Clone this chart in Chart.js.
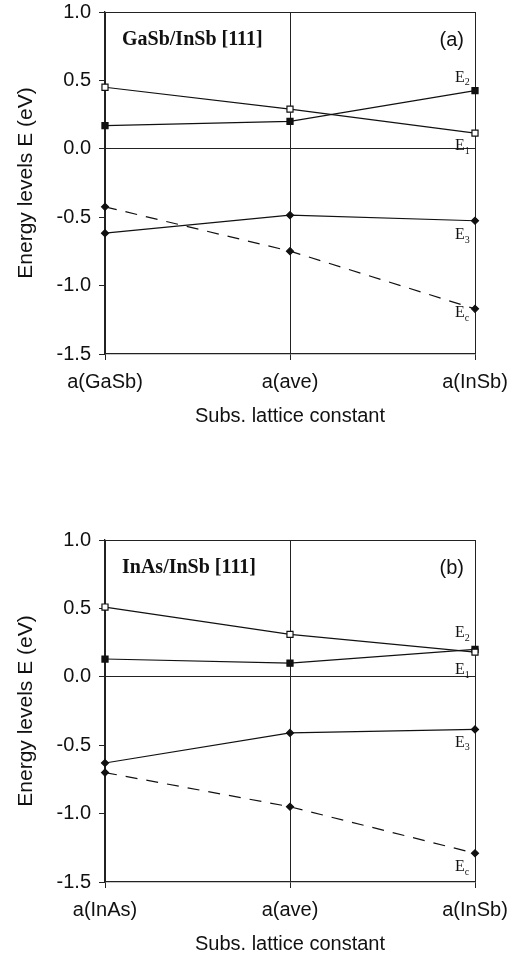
<!DOCTYPE html>
<html lang="en">
<head>
    <meta charset="UTF-8">
    <title>Energy levels vs substrate lattice constant</title>
    <script src="https://cdn.jsdelivr.net/npm/chart.js"></script>
    <style>
        body {
            margin: 0;
            background-color: #fff;
        }
        .panel {
            position: absolute;
            left: 0;
            width: 521px;
            height: 428px;
        }
        #panelA { top: 0; }
        #panelB { top: 528px; }
    </style>
</head>
<body>

    <div class="panel" id="panelA"><canvas id="chartA"></canvas></div>
    <div class="panel" id="panelB"><canvas id="chartB"></canvas></div>

    <script>
        // datos
        const xLabelsA = ['a(GaSb)', 'a(ave)', 'a(InSb)'];
        const xLabelsB = ['a(InAs)', 'a(ave)', 'a(InSb)'];
        const yTicks = [-1.5, -1.0, -0.5, 0.0, 0.5, 1.0];

        // (a) GaSb/InSb
        const openA = [0.45, 0.29, 0.115];
        const filledA = [0.17, 0.20, 0.425];
        const e3A = [-0.617, -0.485, -0.526];
        const ecA = [-0.424, -0.748, -1.17];

        // (b) InAs/InSb
        const openB = [0.51, 0.31, 0.18];
        const filledB = [0.13, 0.10, 0.20];
        const e3B = [-0.63, -0.41, -0.385];
        const ecB = [-0.70, -0.95, -1.29];

        // etiquetas de niveles (texto, subindice, valor y)
        const levelLabelsA = [['E', '2', 0.52], ['E', '1', 0.02], ['E', '3', -0.63], ['E', 'c', -1.20]];
        const levelLabelsB = [['E', '2', 0.32], ['E', '1', 0.05], ['E', '3', -0.48], ['E', 'c', -1.39]];

        const sans = '"Liberation Sans", Arial, sans-serif';
        const serif = '"Liberation Serif", "Times New Roman", serif';

        function lineSet(data, style, fill, dashed) {
            return {
                data: data,
                borderColor: '#111',
                borderWidth: 1.2,
                borderDash: dashed ? [12, 9] : [],
                pointStyle: style,
                pointRadius: style === 'rect' ? 4.3 : 3.5,
                pointBackgroundColor: fill,
                pointBorderColor: '#111',
                pointBorderWidth: 1.2,
                tension: 0
            };
        }

        const textPlugin = {
            id: 'panelText',
            afterDatasetsDraw(chart, args, opts) {
                const ctx = chart.ctx;
                const area = chart.chartArea;
                const y = chart.scales.y;
                ctx.save();
                ctx.fillStyle = '#111';
                ctx.textBaseline = 'middle';
                // titulo del panel
                ctx.font = 'bold 20px ' + serif;
                ctx.textAlign = 'left';
                ctx.fillText(opts.title, area.left + 17, area.top + 28);
                ctx.font = '20px ' + sans;
                ctx.textAlign = 'right';
                ctx.fillText(opts.tag, area.right - 11, area.top + 28);
                // etiquetas E
                opts.levels.forEach(function(l) {
                    const py = y.getPixelForValue(l[2]);
                    const px = area.right - 20;
                    ctx.font = '16px ' + serif;
                    ctx.textAlign = 'left';
                    ctx.fillText(l[0], px, py);
                    const w = ctx.measureText(l[0]).width;
                    ctx.font = '10px ' + serif;
                    ctx.fillText(l[1], px + w, py + 5);
                });
                ctx.restore();
            }
        };

        function makeChart(id, labels, open, filled, e3, ec, title, tag, levels) {
            return new Chart(document.getElementById(id), {
                type: 'line',
                data: {
                    labels: labels,
                    datasets: [
                        lineSet(open, 'rect', '#fff', false),
                        lineSet(filled, 'rect', '#111', false),
                        lineSet(e3, 'rectRot', '#111', false),
                        lineSet(ec, 'rectRot', '#111', true)
                    ]
                },
                options: {
                    responsive: true,
                    maintainAspectRatio: false,
                    animation: false,
                    layout: { padding: { top: 12, right: 46, left: 0, bottom: 0 } },
                    plugins: {
                        legend: { display: false },
                        tooltip: { enabled: false },
                        panelText: { title: title, tag: tag, levels: levels }
                    },
                    scales: {
                        x: {
                            offset: false,
                            grid: { color: '#222', lineWidth: 1, tickLength: 6, tickColor: '#222' },
                            border: { color: '#222', width: 1.3 },
                            ticks: { color: '#111', font: { family: sans, size: 20 }, padding: 10, maxRotation: 0 },
                            title: {
                                display: true,
                                text: 'Subs. lattice constant',
                                color: '#111',
                                font: { family: sans, size: 20 },
                                padding: { top: 0, bottom: 0 }
                            },
                            afterFit: function(s) { s.height = 74; }
                        },
                        y: {
                            min: -1.5,
                            max: 1.0,
                            afterBuildTicks: function(s) { s.ticks = yTicks.map(v => ({ value: v })); },
                            grid: {
                                color: c => (c.tick && (c.tick.value === 0 || c.tick.value === 1)) ? '#222' : 'rgba(0,0,0,0)',
                                tickColor: '#222',
                                tickLength: 6,
                                lineWidth: 1
                            },
                            border: { color: '#222', width: 1.3 },
                            ticks: {
                                color: '#111',
                                font: { family: sans, size: 20 },
                                padding: 8,
                                callback: v => Number(v).toFixed(1)
                            },
                            title: {
                                display: true,
                                text: 'Energy levels E (eV)',
                                color: '#111',
                                font: { family: sans, size: 21 },
                                padding: { top: 14, bottom: 0 }
                            },
                            afterFit: function(s) {
                                s.width = 105;
                                s.paddingTop = 0;
                                s.paddingBottom = 0;
                            }
                        }
                    }
                },
                plugins: [textPlugin]
            });
        }

        makeChart('chartA', xLabelsA, openA, filledA, e3A, ecA, 'GaSb/InSb [111]', '(a)', levelLabelsA);
        makeChart('chartB', xLabelsB, openB, filledB, e3B, ecB, 'InAs/InSb [111]', '(b)', levelLabelsB);
    </script>

</body>
</html>
